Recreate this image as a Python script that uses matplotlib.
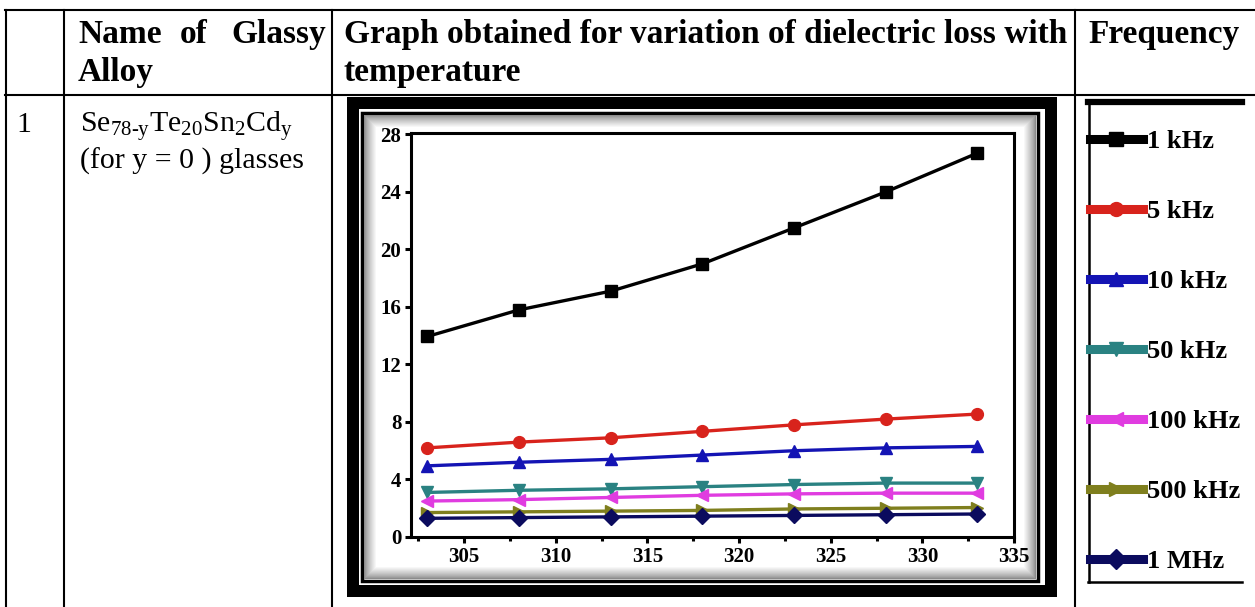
import matplotlib
matplotlib.use("Agg")
import matplotlib.pyplot as plt
import numpy as np
from matplotlib.lines import Line2D
from matplotlib.patches import Rectangle

# ── Data ─────────────────────────────────────────────────────────────────────
temperature = [303, 308, 313, 318, 323, 328, 333]
loss_1khz = [13.95, 15.8, 17.1, 19.0, 21.5, 24.0, 26.7]
loss_5khz = [6.2, 6.6, 6.9, 7.35, 7.8, 8.2, 8.55]
loss_10khz = [4.95, 5.2, 5.4, 5.7, 6.0, 6.2, 6.3]
loss_50khz = [3.1, 3.25, 3.35, 3.5, 3.65, 3.75, 3.75]
loss_100khz = [2.5, 2.6, 2.75, 2.9, 3.0, 3.05, 3.05]
loss_500khz = [1.7, 1.75, 1.8, 1.85, 1.95, 2.0, 2.05]
loss_1mhz = [1.3, 1.35, 1.4, 1.45, 1.5, 1.55, 1.6]

labels = ["1 kHz", "5 kHz", "10 kHz", "50 kHz", "100 kHz", "500 kHz", "1 MHz"]
colors = ["#000000", "#D8231C", "#1414B4", "#2A8282", "#E03CE0", "#7F7F1E", "#0B0B5E"]
markers = ["s", "o", "^", "v", "<", ">", "D"]
series = [loss_1khz, loss_5khz, loss_10khz, loss_50khz, loss_100khz,
          loss_500khz, loss_1mhz]

x_ticks = [305, 310, 315, 320, 325, 330, 335]
y_ticks = [0, 4, 8, 12, 16, 20, 24, 28]

W, H = 1255, 607

plt.rcParams.update({
    "font.family": "Liberation Serif",
    "mathtext.fontset": "custom",
    "mathtext.rm": "Liberation Serif",
    "mathtext.it": "Liberation Serif:italic",
    "mathtext.bf": "Liberation Serif:bold",
})

fig = plt.figure(figsize=(W / 100, H / 100), dpi=100)
fig.patch.set_facecolor("white")

# background axes in pixel coordinates (table + frames)
bg = fig.add_axes([0, 0, 1, 1])
bg.set_xlim(0, W)
bg.set_ylim(H, 0)
bg.axis("off")

# table grid
tlw = 1.5
bg.plot([5, W], [10, 10], color="black", lw=tlw)
bg.plot([5, W], [95, 95], color="black", lw=tlw)
for xv in [6, 64, 332, 1075]:
    bg.plot([xv, xv], [10, H], color="black", lw=tlw)

# header text
hfs = 24
bg.text(78, 43, "Name", fontsize=hfs, fontweight="bold", va="baseline")
bg.text(180, 43, "of", fontsize=hfs, fontweight="bold", va="baseline")
bg.text(326, 43, "Glassy", fontsize=hfs, fontweight="bold", va="baseline", ha="right")
bg.text(78, 81, "Alloy", fontsize=hfs, fontweight="bold", va="baseline")
bg.text(344, 43, "Graph obtained for variation of dielectric loss with",
        fontsize=hfs, fontweight="bold", va="baseline")
bg.text(344, 81, "temperature", fontsize=hfs, fontweight="bold", va="baseline")
bg.text(1088, 43, "Frequency", fontsize=hfs, fontweight="bold", va="baseline")

# row 1 text
bfs = 21.5
bg.text(16, 132, "1", fontsize=bfs, va="baseline")
bg.text(80, 132, r"$\mathrm{Se_{78\text{-}y}Te_{20}Sn_{2}Cd_{y}}$", fontsize=bfs,
        va="baseline")
bg.text(80, 169, "(for y = 0 ) glasses", fontsize=bfs, va="baseline")

# chart image frame
bg.add_patch(Rectangle((347, 97), 710, 500, facecolor="black", edgecolor="none"))
bg.add_patch(Rectangle((359, 109), 686, 476, facecolor="white", edgecolor="none"))
bg.add_patch(Rectangle((362, 113), 676, 468, facecolor="none", edgecolor="black",
                       lw=2.5))
# soft grey shadow inside the frame
x0, x1, y0, y1 = 364, 1036, 115, 579
gx = np.arange(x1 - x0)
gy = np.arange(y1 - y0)
dx = np.minimum(gx, gx[::-1])[None, :]
dy = np.minimum(gy, gy[::-1])[:, None]
d = np.minimum(dx, dy).astype(float)
shade = 0.55 + 0.45 * np.clip(d / 12.0, 0, 1) ** 0.8
img = np.dstack([shade, shade, shade])
bg.imshow(img, extent=(x0, x1, y1, y0), origin="upper", aspect="auto",
          interpolation="bilinear", zorder=1)

# legend image border
bg.plot([1088, 1242], [102, 102], color="black", lw=4.5, zorder=2)
bg.plot([1089, 1089], [100, 582], color="black", lw=1.8, zorder=2)
bg.plot([1088, 1242], [582, 582], color="black", lw=1.8, zorder=2)

# ── Chart ────────────────────────────────────────────────────────────────────
ax = fig.add_axes([411 / W, (H - 537) / H, (1014 - 411) / W, (537 - 133) / H])
ax.set_facecolor("white")
for vals, c, m in zip(series, colors, markers):
    ax.plot(temperature, vals, color=c, lw=2.4, marker=m, ms=8.5,
            markeredgecolor=c, zorder=3)

ax.set_xlim(302.1, 335)
ax.set_ylim(0, 28.1)
ax.set_xticks(x_ticks)
ax.set_xticks([302.5 + 5 * i for i in range(7)], minor=True)
ax.set_yticks(y_ticks)
for s in ax.spines.values():
    s.set_linewidth(2.2)
ax.tick_params(axis="both", which="major", direction="out", length=4, width=2.2,
               labelsize=15, pad=3)
ax.tick_params(axis="x", which="minor", direction="out", length=3, width=2.2)
for lab in ax.get_xticklabels() + ax.get_yticklabels():
    lab.set_fontweight("bold")

# legend (frequency column)
handles = [Line2D([], [], color=c, lw=6.5, marker=m, ms=10, markeredgecolor=c)
           for c, m in zip(colors, markers)]
fig.legend(handles, labels, loc="upper left",
           bbox_to_anchor=(1090 / W, 1 - 130 / H), bbox_transform=fig.transFigure,
           frameon=False, handlelength=2.0, handletextpad=0.15,
           labelspacing=1.76, borderpad=0, borderaxespad=0,
           prop={"family": "Liberation Serif", "weight": "bold", "size": 19})

fig.savefig("out.png", dpi=100, facecolor="white")
